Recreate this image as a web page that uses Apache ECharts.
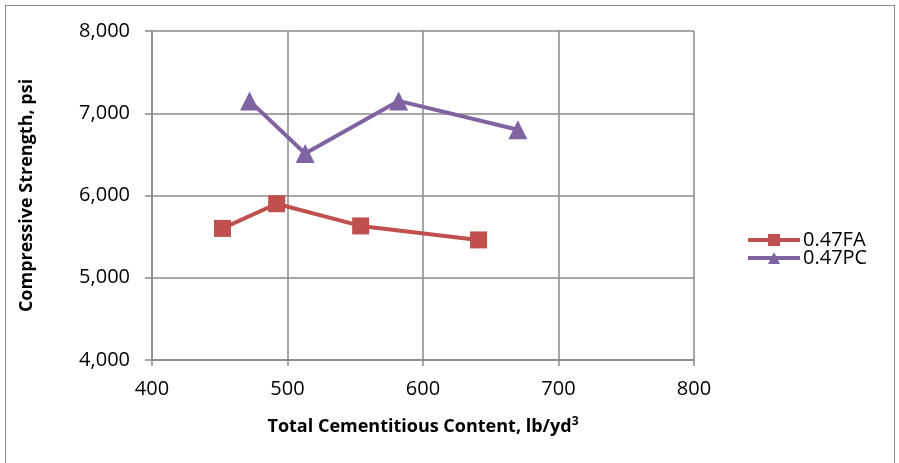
<!DOCTYPE html>
<html>
<head>
<meta charset="utf-8">
<script src="https://cdn.jsdelivr.net/npm/echarts@6/dist/echarts.min.js"></script>
<style>
  body { margin: 0; background: #fff; }
  #frame { position: absolute; left: 5px; top: 5px; width: 888px; height: 470px; border: 1px solid #8c8c8c; }
  #chart { position: absolute; left: 0; top: 0; width: 899px; height: 463px; }
</style>
</head>
<body>
<div id="frame"></div>
<div id="chart"></div>
<script>
// values
var faX = [452, 492, 554, 641];
var faY = [5600, 5900, 5630, 5460];
var pcX = [472, 513, 582, 670];
var pcY = [7150, 6510, 7150, 6800];

function pairs(xs, ys) {
  return xs.map(function (x, i) { return [x, ys[i]]; });
}

var font = '"Open Sans", sans-serif';
var gridColor = '#8a8a8a';

var chart = echarts.init(document.getElementById('chart'));
chart.setOption({
  animation: false,
  textStyle: { fontFamily: font },
  grid: { left: 152, top: 31, right: 205, bottom: 103 },
  legend: {
    orient: 'vertical',
    left: 741,
    top: 225,
    itemWidth: 52,
    itemHeight: 15,
    itemGap: -2,
    lineStyle: { width: 4 },
    textStyle: { fontSize: 20, color: '#000', fontFamily: font, padding: [0, 0, 0, -2] },
    data: ['0.47FA', '0.47PC']
  },
  xAxis: {
    type: 'value',
    min: 400, max: 800, interval: 100,
    name: 'Total Cementitious Content, lb/yd{sup|3}',
    nameLocation: 'middle',
    nameGap: 56,
    nameTextStyle: {
      fontSize: 18, fontWeight: 'bold', color: '#000',
      rich: { sup: { fontSize: 12, fontWeight: 'bold', verticalAlign: 'top', padding: [0, 0, 9, 0] } }
    },
    axisLine: { show: true, lineStyle: { color: gridColor, width: 1.5 } },
    axisTick: { show: true, length: 6, lineStyle: { color: gridColor, width: 1.5 } },
    axisLabel: { fontSize: 20, color: '#000', margin: 19 },
    splitLine: { show: true, lineStyle: { color: gridColor, width: 1.5 } }
  },
  yAxis: {
    type: 'value',
    min: 4000, max: 8000, interval: 1000,
    name: 'Compressive Strength, psi',
    nameLocation: 'middle',
    nameGap: 116,
    nameTextStyle: { fontSize: 18, fontWeight: 'bold', color: '#000' },
    axisLine: { show: true, lineStyle: { color: gridColor, width: 1.5 } },
    axisTick: { show: true, length: 7, lineStyle: { color: gridColor, width: 1.5 } },
    axisLabel: {
      fontSize: 20, color: '#000', margin: 22,
      formatter: function (v) { return v.toLocaleString('en-US'); }
    },
    splitLine: { show: true, lineStyle: { color: gridColor, width: 1.5 } }
  },
  series: [
    {
      name: '0.47FA',
      type: 'line',
      data: pairs(faX, faY),
      symbol: 'rect',
      symbolSize: 17,
      itemStyle: { color: '#C0504D' },
      lineStyle: { color: '#C0504D', width: 4 }
    },
    {
      name: '0.47PC',
      type: 'line',
      data: pairs(pcX, pcY),
      symbol: 'triangle',
      symbolSize: 19,
      itemStyle: { color: '#8064A2' },
      lineStyle: { color: '#8064A2', width: 4 }
    }
  ]
});
</script>
</body>
</html>
